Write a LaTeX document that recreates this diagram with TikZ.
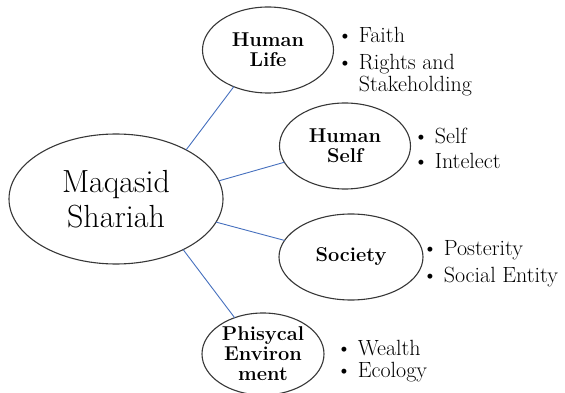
\documentclass[tikz,border=0pt]{standalone}
\usepackage{fontspec}
\usepackage{tikz}
\usetikzlibrary{shapes.geometric}

\definecolor{linkblue}{RGB}{70,112,190}
\definecolor{rimgray}{RGB}{55,55,55}

\newcommand{\itemlist}[1]{\fontsize{22}{19}\selectfont
\begin{tabular}[t]{@{}c@{\hspace{6pt}}l@{}}#1\end{tabular}}

\begin{document}
\begin{tikzpicture}[x=1pt,y=-1pt,inner sep=0pt,outer sep=0pt,
goal/.style={draw=rimgray,ellipse,line width=1.1pt,align=center,inner sep=-3pt},
bigtext/.style={font=\fontsize{32}{35}\selectfont},
smalltext/.style={font=\bfseries\fontsize{20}{20}\selectfont},
link/.style={draw=linkblue,line width=0.9pt},
list/.style={anchor=base west}]
\useasboundingbox (0,0) rectangle (565,393);
\draw (116,199) node[goal,bigtext,minimum width=214pt,minimum height=130pt] (main) {Maqasid\\Shariah};
\draw (268,50) node[goal,smalltext,minimum width=131pt,minimum height=86pt] (life) {Human\\Life};
\draw (345,146) node[goal,smalltext,minimum width=131pt,minimum height=86pt] (self) {Human\\Self};
\draw (351,257) node[goal,smalltext,minimum width=144pt,minimum height=86pt] (soc) {Society};
\draw (263,354) node[goal,smalltext,minimum width=122pt,minimum height=82pt] (env) {Phisycal\\Environ\\ment};
\draw[link] (main.35) -- (life.227);
\draw[link] (main.10) -- (self.195);
\draw[link] (main.-13) -- (soc.166);
\draw[link] (main.-37) -- (env.128);
\draw (337,43) node[list] (lifelist) {\itemlist{\textbullet & Faith\\[6pt] \textbullet & Rights and\\ & Stakeholding}};
\draw (413,143) node[list] (selflist) {\itemlist{\textbullet & Self\\[5pt] \textbullet & Intelect}};
\draw (422,255) node[list] (soclist) {\itemlist{\textbullet & Posterity\\[6pt] \textbullet & Social Entity}};
\draw (336,355) node[list] (envlist) {\itemlist{\textbullet & Wealth\\[2pt] \textbullet & Ecology}};
\end{tikzpicture}
\end{document}
